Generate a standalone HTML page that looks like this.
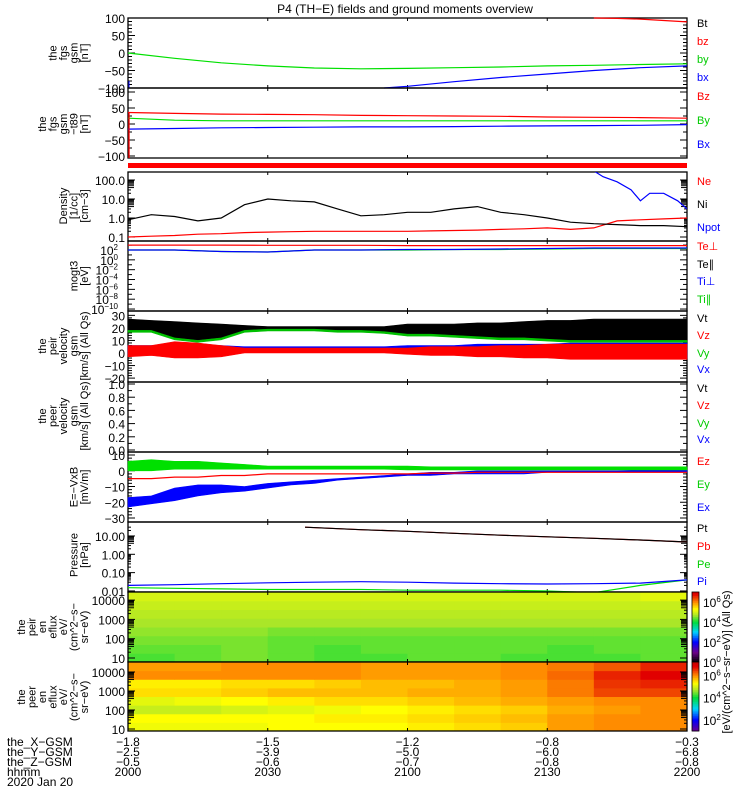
<!DOCTYPE html>
<html><head><meta charset="utf-8">
<style>
body{margin:0;background:#fff;}
svg{display:block;font-family:"Liberation Sans",sans-serif;}
text{font-size:11px;}
</style></head>
<body>
<svg id="chart" width="750" height="800" viewBox="0 0 750 800" xmlns="http://www.w3.org/2000/svg">
<rect width="750" height="800" fill="#fff"/>
<text x="405" y="13" text-anchor="middle" style="font-size:12px">P4 (TH−E) fields and ground moments overview</text>
<g id="g"></g>
</svg>
<script>
// ---------- DATA ----------
const xTicksLabelsT = [0,30,60,90,120];
const xTickHHMM = ["2000","2030","2100","2130","2200"];
const xTickX = ["-1.8","-1.5","-1.2","-0.8","-0.3"];
const xTickY = ["-2.5","-3.9","-5.0","-6.0","-6.8"];
const xTickZ = ["-0.5","-0.6","-0.7","-0.8","-0.8"];

// panel 1 (fgs gsm)
const t10 = [0,10,20,30,40,50,60,70,80,90,100,110,120];
const fgsBy = [0,-15,-28,-37,-43,-45,-44,-42,-40,-37,-35,-33,-31];
const fgsBxT = [55,60,70,80,90,100,110,120];
const fgsBx = [-100,-95,-82,-70,-60,-50,-42,-37];
const fgsBzT = [100,105,110,120];
const fgsBz = [100,99,97,89];
// panel 2 (fgs gsm - t89)
const dBz = [36,33,31,30,29,27,26,25,24,22,21,20,18];
const dBy = [18,12,10,10,10,10,10,10,10,10,10,10,10];
const dBx = [-16,-14,-12,-11,-10,-9,-9,-8,-7,-6,-5,-4,-2];
// panel 3 density
const t5 = [0,5,10,15,20,25,30,35,40,45,50,55,60,65,70,75,80,85,90,95,100,105,110,115,120];
const densNi = [0.8,1.5,1.2,0.7,1.0,5,10,8,7,3,1.3,1.5,2,2,3,4,2,1.5,1.0,0.6,0.5,0.45,0.4,0.4,0.35];
const densNe = [0.1,0.11,0.12,0.14,0.15,0.17,0.18,0.19,0.2,0.2,0.2,0.2,0.2,0.21,0.22,0.23,0.25,0.27,0.3,0.25,0.3,0.7,0.8,0.9,1.0];
const npotT = [100,102,105,108,110,112,115,118,120];
const npot = [300,150,80,30,8,20,20,8,3];
// panel 4 temps (log10 eV)
const tePerp = [3.0,3.0,3.0,2.95,2.95,2.95,2.9,2.9,2.9,2.9,2.9,2.9,2.9];
const tiPar = [2.0,2.0,1.7,1.6,2.0,2.0,2.0,2.1,2.1,2.2,2.3,2.3,2.3];
const tiPerp = [2.0,2.0,1.7,1.6,2.0,2.0,2.1,2.1,2.2,2.3,2.4,2.4,2.4];
// panel 5 velocity envelopes (km/s)
const vtLo = [18,18,12,10,12,18,19,19,19,18,18,17,15,15,14,13,12,12,11,10,10,10,10,10,10];
const vtHi = [27,26,25,24,23,22,21,21,21,21,21,21,23,23,23,24,24,25,26,26,27,27,27,27,27];
const vzLo = [-3,-2,-4,-4,-3,0,0,0,0,0,0,0,-1,-2,-2,-3,-3,-4,-4,-5,-5,-5,-5,-5,-5];
const vzHi = [6,6,9,8,6,4,4,4,4,4,4,4,4,5,5,5,6,6,7,7,7,7,7,7,7];
const vxLo = [-1,-1,-2,-2,-1,1,1,1,1,1,1,1,0,-1,-1,-2,-2,-3,-3,-4,-4,-4,-4,-4,-4];
const vxHi = [6,6,7,6,6,5,5,5,5,5,5,5,6,6,6,7,7,7,7,8,8,8,8,8,8];
// panel 7 E = -VxB (mV/m)
const eyLo = [0,0,1,1,1,1,1,1,1,1,1,1,0.5,0.5,0.5,0.5,0.5,0.5,0.5,0.5,0.5,0.5,0.5,0.5,0.5];
const eyHi = [6,7,6,6,5,4,3,3,3,3,3,3,3,2.5,2.5,2.5,2.5,2.5,2.5,2.5,2.5,2.5,2.5,2.5,2.5];
const ez = [-5,-5,-4,-4,-3,-3,-2,-2,-2,-2,-2,-2,-2,-1.5,-1.5,-1,-1,-1,-1,-1,-1,-1,-1,-1,-1];
const exLo = [-23,-21,-19,-16,-14,-13,-11,-9,-8,-6,-5,-4,-3,-3,-2,-2,-2,-2,-1,-1,-1,-1,-1,-1,-1];
const exHi = [-17,-16,-11,-9,-9,-10,-8,-7,-6,-5,-4,-3,-2,-1,-1,0,0,0,0,0,0,0,0.5,0.5,0.5];
// panel 8 pressure (nPa)
const ptT = [38,50,60,70,80,90,100,110,120];
const pt = [30,22,18,14,11,9,7.5,6,4.7];
const pi = [0.02,0.022,0.025,0.028,0.03,0.032,0.03,0.027,0.025,0.024,0.025,0.027,0.04];
const pe = [0.015,0.014,0.013,0.012,0.012,0.012,0.011,0.011,0.011,0.01,0.008,0.02,0.04];
// spectrograms: log10 eflux; rows from low (10 eV) to high energy (~25 keV)
const specCols = [0,10,20,30,40,50,60,70,80,90,100,110];
const ionSpec = [
 [4.3,4.4,4.5,4.4,4.3,4.3,4.4,4.4,4.3,4.3,4.3,4.4],
 [4.4,4.4,4.5,4.4,4.3,4.4,4.4,4.4,4.4,4.3,4.4,4.4],
 [4.5,4.5,4.5,4.4,4.4,4.4,4.4,4.4,4.4,4.4,4.4,4.4],
 [4.6,4.6,4.6,4.5,4.5,4.5,4.5,4.5,4.5,4.5,4.5,4.5],
 [4.7,4.7,4.7,4.7,4.7,4.7,4.7,4.7,4.7,4.7,4.7,4.7],
 [4.8,4.8,4.8,4.8,4.8,4.8,4.8,4.8,4.8,4.8,4.8,4.8],
 [4.9,4.9,4.9,4.9,4.9,4.9,4.9,4.9,4.9,4.9,4.9,4.9],
 [5.0,5.0,5.0,5.0,5.0,5.0,5.0,5.0,5.0,5.0,5.0,5.1]];
const eleSpec = [
 [5.2,5.2,5.2,5.3,5.3,5.3,5.4,5.5,5.6,5.9,6.0,6.0],
 [5.3,5.3,5.3,5.3,5.4,5.4,5.5,5.6,5.7,5.9,6.0,6.0],
 [4.9,4.9,5.0,5.1,5.2,5.3,5.4,5.5,5.6,5.8,5.9,6.0],
 [5.1,5.2,5.3,5.4,5.5,5.5,5.6,5.7,5.8,5.9,6.0,6.0],
 [5.5,5.5,5.6,5.7,5.7,5.7,5.8,5.8,5.9,6.1,6.4,6.4],
 [5.4,5.4,5.5,5.5,5.6,5.7,5.7,5.8,5.9,6.1,6.5,6.6],
 [6.0,6.0,6.0,6.0,6.0,5.9,5.9,5.9,6.0,6.2,6.6,6.8],
 [5.9,5.9,6.0,6.0,6.0,5.9,5.9,5.9,6.0,6.1,6.3,6.6]];

// ---------- DRAW ----------
const NS="http://www.w3.org/2000/svg";
const G=document.getElementById('g');
const X0=128,X1=687;
const xs=t=>X0+t/120*(X1-X0);
function el(tag,attrs,parent){const e=document.createElementNS(NS,tag);for(const k in attrs)e.setAttribute(k,attrs[k]);(parent||G).appendChild(e);return e;}
function txt(s,x,y,anchor,color,size,name){const e=el('text',{x:x,y:y,'text-anchor':anchor||'start',fill:color||'#000'});if(size)e.style.fontSize=size+'px';e.textContent=s;


return e;}
function line(ts,vs,ys,color,name){let d='';ts.forEach((t,i)=>{d+=(i?'L':'M')+xs(t).toFixed(1)+','+ys(vs[i]).toFixed(1);});const p=el('path',{d:d,fill:'none',stroke:color,'stroke-width':1.2});


return p;}
function band(ts,lo,hi,ys,color,name){let d='';ts.forEach((t,i)=>{d+=(i?'L':'M')+xs(t).toFixed(1)+','+ys(hi[i]).toFixed(1);});for(let i=ts.length-1;i>=0;i--)d+='L'+xs(ts[i]).toFixed(1)+','+ys(lo[i]).toFixed(1);d+='Z';const p=el('path',{d:d,fill:color,stroke:color,'stroke-width':0.6});


return p;}
function frame(y0,y1,name){const r=el('rect',{x:X0,y:y0,width:X1-X0,height:y1-y0,fill:'none',stroke:'#000','stroke-width':1.3});


for(let k=1;k<4;k++){const x=xs(k*30);el('line',{x1:x,x2:x,y1:y0,y2:y0+3,stroke:'#000'});el('line',{x1:x,x2:x,y1:y1,y2:y1-3,stroke:'#000'});}}
function yticks(vals,ys,labels,minor){vals.forEach((v,i)=>{const y=ys(v);el('line',{x1:X0,x2:X0+7,y1:y,y2:y,stroke:'#000'});el('line',{x1:X1,x2:X1-7,y1:y,y2:y,stroke:'#000'});
if(labels){txt(labels[i],X0-3,y+5,'end','#000',12,'y-tick-label');}});
(minor||[]).forEach(v=>{const y=ys(v);el('line',{x1:X0,x2:X0+4,y1:y,y2:y,stroke:'#000'});el('line',{x1:X1,x2:X1-4,y1:y,y2:y,stroke:'#000'});});}
function ylabel(lines,cy,xr,name){const n=lines.length;lines.forEach((s,i)=>{const x=xr-(n-1-i)*10.5;const t=el('text',{x:x,y:cy,'text-anchor':'middle',transform:`rotate(-90 ${x} ${cy})`});t.textContent=s;

});}
function legend(items,ys){items.forEach((it,i)=>txt(it[0],697,ys[i],'start',it[1],11,'legend-entry'));}
function logMinor(a,b){const m=[];for(let d=a;d<b;d++)for(let k=2;k<10;k++)m.push(d+Math.log10(k));return m;}

// Panel 1
{const ys=v=>18+(100-v)*0.35;frame(18,88,'panel-fgs-gsm');
yticks([100,50,0,-50,-100],ys,['100','50','0','−50','−100'],[90,80,70,60,40,30,20,10,-10,-20,-30,-40,-60,-70,-80,-90]);
line(t10,fgsBy,ys,'#00e000','series-fgs-by');line(fgsBxT,fgsBx,ys,'#0000ff','series-fgs-bx');line(fgsBzT,fgsBz,ys,'#ff0000','series-fgs-bz');
el('line',{x1:X0+1,x2:X0+1,y1:81,y2:88,stroke:'#0000ff'});
ylabel(['the','fgs','gsm','[nT]'],53,88,'y-axis-title-fgs');
legend([['Bt','#000'],['bz','#f00'],['by','#0c0'],['bx','#00f']],[27,45,63,81]);}
// Panel 2
{const ys=v=>124-v*0.32;frame(88,158,'panel-fgs-minus-t89');
yticks([100,50,0,-50,-100],ys,['100','50','0','−50','−100'],[75,25,-25,-75]);
line(t10,dBy,ys,'#00e000','series-dby');line(t10,dBx,ys,'#0000ff','series-dbx');line(t10,dBz,ys,'#ff0000','series-dbz');
el('line',{x1:X0+1,x2:X0+1,y1:112,y2:158,stroke:'#ff0000','stroke-width':1.3});
ylabel(['the','fgs','gsm','−t89','[nT]'],124,88,'y-axis-title-fgs-t89');
legend([['Bz','#f00'],['By','#0c0'],['Bx','#00f']],[100,124,148]);}
// red status bar
{const r=el('rect',{x:X0,y:163,width:X1-X0,height:5,fill:'#ff0000'});

}
// Panel 3 density
{const ys=v=>218-Math.log10(v)*19;const yl=l=>218-l*19;frame(172,241,'panel-density');
[2,1,0,-1].forEach((l,i)=>{const y=yl(l);el('line',{x1:X0,x2:X0+7,y1:y,y2:y,stroke:'#000'});el('line',{x1:X1,x2:X1-7,y1:y,y2:y,stroke:'#000'});txt(['100.0','10.0','1.0','0.1'][i],X0-3,y+5,'end','#000',12,'y-tick-label');});
logMinor(-1,2).forEach(l=>{const y=yl(l);el('line',{x1:X0,x2:X0+(l%1>0.6?6:3),y1:y,y2:y,stroke:'#000'});el('line',{x1:X1,x2:X1-(l%1>0.6?6:3),y1:y,y2:y,stroke:'#000'});});
line(t5,densNe,ys,'#ff0000','series-ne');line(t5,densNi,ys,'#000','series-ni');
const clip=el('clipPath',{id:'c3'});el('rect',{x:X0,y:172,width:X1-X0,height:69},clip);
const p=line(npotT,npot,ys,'#0000ff','series-npot');p.setAttribute('clip-path','url(#c3)');
ylabel(['Density','[1/cc]','[cm−3]'],206,88,'y-axis-title-density');
legend([['Ne','#f00'],['Ni','#000'],['Npot','#00f']],[185,208,231]);}
// Panel 4 temperatures
{const yl=l=>250-(l-2)*4.92;frame(241,311,'panel-temperature');
const lv=[2,0,-2,-4,-6,-8,-10];lv.forEach(l=>{const y=yl(l);el('line',{x1:X0,x2:X0+7,y1:y,y2:y,stroke:'#000'});el('line',{x1:X1,x2:X1-7,y1:y,y2:y,stroke:'#000'});
const t=txt('10',X0-10,y+5,'end','#000',12,'y-tick-label');const s=el('tspan',{dy:-5});s.textContent=String(l).replace('-','−');s.style.fontSize='8px';t.appendChild(s);});
[3,1,-1,-3,-5,-7,-9].forEach(l=>{const y=yl(l);el('line',{x1:X0,x2:X0+4,y1:y,y2:y,stroke:'#000'});el('line',{x1:X1,x2:X1-4,y1:y,y2:y,stroke:'#000'});});
line(t10,tePerp,yl,'#ff0000','series-te-perp');line(t10,tiPar,yl,'#00e000','series-ti-par');line(t10,tiPerp,yl,'#0000ff','series-ti-perp');
ylabel(['mogt3','[eV]'],276,88,'y-axis-title-temp');
legend([['Te⊥','#f00'],['Te∥','#000'],['Ti⊥','#00f'],['Ti∥','#0c0']],[250,268,285,303]);}
// Panel 5 velocity
{const ys=v=>353-v*1.255;frame(311,382,'panel-velocity');
yticks([30,20,10,0,-10,-20],ys,['30','20','10','0','−10','−20'],[28,26,24,22,18,16,14,12,8,6,4,2,-2,-4,-6,-8,-12,-14,-16,-18]);
band(t5,vtLo,vtHi,ys,'#000','series-vt');band(t5,vtLo.map(v=>v-1.5),vtLo,ys,'#00c000','series-vy');
band(t5,vxLo,vxHi,ys,'#0000ff','series-vx');band(t5,vzLo,vzHi,ys,'#ff0000','series-vz');
ylabel(['the','peir','velocity','gsm','[km/s] (All Qs)'],346,88,'y-axis-title-vpeir');
legend([['Vt','#000'],['Vz','#f00'],['Vy','#0c0'],['Vx','#00f']],[322,339,357,373]);}
// Panel 6 empty
{const ys=v=>450-v*66;frame(382,452,'panel-velocity-peer');
yticks([1,0.8,0.6,0.4,0.2,0],ys,['1.0','0.8','0.6','0.4','0.2','0.0'],[0.9,0.7,0.5,0.3,0.1]);
ylabel(['the','peer','velocity','gsm','[km/s] (All Qs)'],416,88,'y-axis-title-vpeer');
legend([['Vt','#000'],['Vz','#f00'],['Vy','#0c0'],['Vx','#00f']],[392,409,427,443]);}
// Panel 7 E-field
{const ys=v=>470.75-v*1.575;frame(452,522,'panel-efield');
yticks([10,0,-10,-20,-30],ys,['10','0','−10','−20','−30'],[8,6,4,2,-2,-4,-6,-8,-12,-14,-16,-18,-22,-24,-26,-28]);
band(t5,exLo,exHi,ys,'#0000ff','series-ex');band(t5,eyLo,eyHi,ys,'#00e000','series-ey');line(t5,ez,ys,'#ff0000','series-ez');
ylabel(['E=−VxB','[mV/m]'],487,88,'y-axis-title-efield');
legend([['Ez','#f00'],['Ey','#0c0'],['Ex','#00f']],[465,488,511]);}
// Panel 8 pressure
{const ys=v=>554.3-Math.log10(v)*18.33;const yl=l=>554.3-l*18.33;frame(522,592,'panel-pressure');
[1,0,-1,-2].forEach((l,i)=>{const y=yl(l);el('line',{x1:X0,x2:X0+7,y1:y,y2:y,stroke:'#000'});el('line',{x1:X1,x2:X1-7,y1:y,y2:y,stroke:'#000'});txt(['10.00','1.00','0.10','0.01'][i],X0-3,y+5,'end','#000',12,'y-tick-label');});
logMinor(-2,1).concat([1.3,1.48]).forEach(l=>{const y=yl(l);el('line',{x1:X0,x2:X0+(l%1>0.6?6:3),y1:y,y2:y,stroke:'#000'});el('line',{x1:X1,x2:X1-(l%1>0.6?6:3),y1:y,y2:y,stroke:'#000'});});
line(ptT,pt,ys,'#ff0000','series-pb');line(ptT,pt,ys,'#000','series-pt');line(t10,pe,ys,'#00e000','series-pe');line(t10,pi,ys,'#0000ff','series-pi');
ylabel(['Pressure','[nPa]'],555,88,'y-axis-title-pressure');
legend([['Pt','#000'],['Pb','#f00'],['Pe','#0c0'],['Pi','#00f']],[532,550,568,585]);}
// spectrogram colour map
const stops=[[0,[0,0,0]],[1,[110,0,140]],[2,[0,0,255]],[3,[0,210,255]],[4,[0,220,60]],[4.7,[170,230,40]],[5.3,[255,255,0]],[6,[255,140,0]],[6.8,[225,0,0]],[7.5,[180,0,0]]];
function cmap(v){for(let i=1;i<stops.length;i++){if(v<=stops[i][0]){const a=stops[i-1],b=stops[i];const f=Math.max(0,(v-a[0])/(b[0]-a[0]));return 'rgb('+a[1].map((c,k)=>Math.round(c+(b[1][k]-c)*f)).join(',')+')';}}return 'rgb(180,0,0)';}
function spec(data,y0,y1,name){const nr=data.length,nc=specCols.length,h=(y1-y0)/nr;
data.forEach((row,r)=>row.forEach((v,c)=>{const xa=xs(specCols[c]),xb=c+1<nc?xs(specCols[c+1]):X1;
const rc=el('rect',{x:xa,y:y1-(r+1)*h,width:xb-xa+0.5,height:h+0.5,fill:cmap(v)});

}));}
function specAxes(y0,y1,yl,labels,title){frame(y0,y1,title);
[4,3,2,1].forEach((l,i)=>{const y=yl(l);el('line',{x1:X0,x2:X0+7,y1:y,y2:y,stroke:'#000'});el('line',{x1:X1,x2:X1-7,y1:y,y2:y,stroke:'#000'});txt(labels[i],X0-3,y+5,'end','#000',12,'y-tick-label');});
logMinor(1,4).forEach(l=>{const y=yl(l);el('line',{x1:X0,x2:X0+(l%1>0.6?6:3),y1:y,y2:y,stroke:'#000'});el('line',{x1:X1,x2:X1-(l%1>0.6?6:3),y1:y,y2:y,stroke:'#000'});});}
// Panel 9 ion spectrogram
{spec(ionSpec,592,662,'ion-spectrogram');const yl=l=>658-(l-1)*19.3;
specAxes(592,662,yl,['10000','1000','100','10'],'panel-ion-spectrogram');
ylabel(['the','peir','en','eflux','eV/','(cm^2−s−','sr−eV)'],627,88,'y-axis-title-ion');}
// Panel 10 electron spectrogram
{spec(eleSpec,662,731,'electron-spectrogram');const yl=l=>729-(l-1)*19;
specAxes(662,731,yl,['10000','1000','100','10'],'panel-electron-spectrogram');
ylabel(['the','peer','en','eflux','eV/','(cm^2−s−','sr−eV)'],697,88,'y-axis-title-electron');}
// colorbars
function cbar(y0,y1,vmin,vmax,lbls,name){const n=40,h=(y1-y0)/n;for(let i=0;i<n;i++){const v=vmin+(vmax-vmin)*(i+0.5)/n;
const r=el('rect',{x:692,y:y1-(i+1)*h,width:7,height:h+0.4,fill:cmap(v)});

}
el('rect',{x:692,y:y0,width:7,height:y1-y0,fill:'none',stroke:'#000','stroke-width':0.8});
lbls.forEach(l=>{const y=y1-(l-vmin)/(vmax-vmin)*(y1-y0);const t=txt('10',703,y+5,'start','#000',12,'colorbar-tick-label');const s=el('tspan',{dy:-5});s.textContent=String(l);s.style.fontSize='8px';t.appendChild(s);});}
cbar(592,662,0,7,[0,2,4,6],'ion-colorbar');cbar(662,731,1,7.2,[2,4,6],'electron-colorbar');
{const t=el('text',{x:730,y:662,'text-anchor':'middle',transform:'rotate(-90 730 662)'});t.textContent='[eV/(cm^2−s−sr−eV)] (All Qs)';

}
// bottom axis labels
const rows=[['the_X−GSM',xTickX],['the_Y−GSM',xTickY],['the_Z−GSM',xTickZ],['hhmm',xTickHHMM]];
rows.forEach((r,i)=>{const y=746+i*10;txt(r[0],7,y,'start','#000',12,'x-axis-row-title');
xTicksLabelsT.forEach((t,k)=>txt(r[1][k].replace('-','−'),xs(t),y,'middle','#000',12,'x-tick-label'));});
txt('2020 Jan 20',7,786,'start','#000',12,'date-label');
</script>
</body></html>
